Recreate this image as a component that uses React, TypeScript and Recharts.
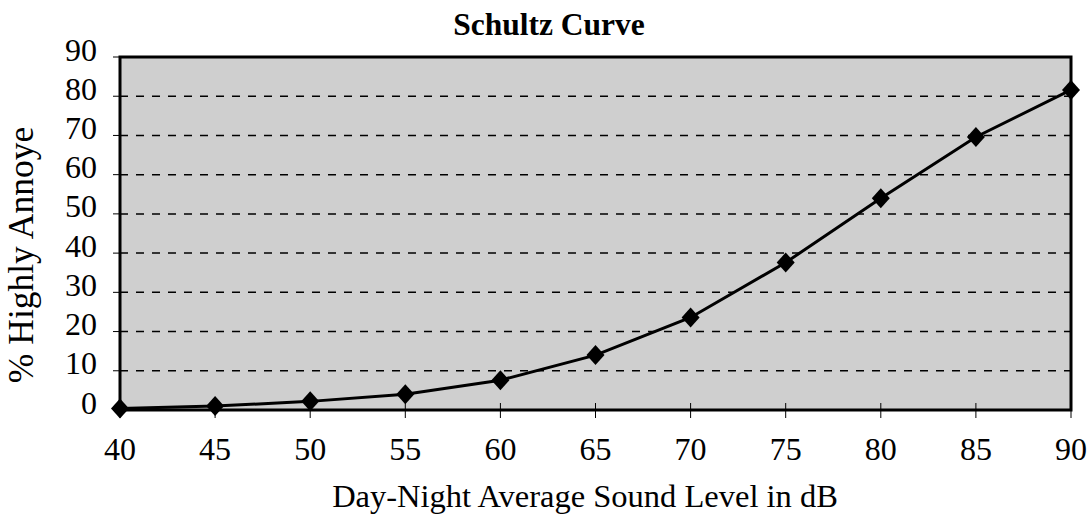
import React from "react";
import { LineChart, Line, XAxis, YAxis, CartesianGrid, ReferenceArea } from "recharts";

const soundLevels = [40, 45, 50, 55, 60, 65, 70, 75, 80, 85, 90];
const pctHighlyAnnoyed = [0.4, 1.0, 2.2, 4.0, 7.6, 14.0, 23.6, 37.6, 54.0, 69.6, 81.6];
const xTicks = [40, 45, 50, 55, 60, 65, 70, 75, 80, 85, 90];
const yTicks = [0, 10, 20, 30, 40, 50, 60, 70, 80, 90];
const titleText = "Schultz Curve";
const xLabelText = "Day-Night Average Sound Level in dB";
const yLabelText = "% Highly Annoye";

const data = soundLevels.map((x, i) => ({ x, y: pctHighlyAnnoyed[i] }));

const FONT = "'Liberation Serif', 'Times New Roman', serif";

const XTick = (props: any) => {
  const { x, y, payload } = props;
  return (
    <g>
      <line x1={x} x2={x} y1={y - 7} y2={y + 8} stroke="#000" strokeWidth={1} />
      <text x={x} y={y + 50} textAnchor="middle" fontFamily={FONT} fontSize={32} fill="#000">
        {payload.value}
      </text>
    </g>
  );
};

const YTick = (props: any) => {
  const { x, y, payload } = props;
  return (
    <g>
      <line x1={x - 7} x2={x} y1={y} y2={y} stroke="#000" strokeWidth={1} />
      <text x={x - 23} y={y + 3.5} textAnchor="end" fontFamily={FONT} fontSize={32} fill="#000">
        {payload.value}
      </text>
    </g>
  );
};

const Diamond = (props: any) => {
  const { cx, cy, index } = props;
  if (cx == null || cy == null) return <g key={index} />;
  return (
    <path
      key={index}
      d={`M${cx},${cy - 10}L${cx + 9},${cy}L${cx},${cy + 10}L${cx - 9},${cy}Z`}
      fill="#000"
    />
  );
};

export default function App() {
  return (
    <div style={{ position: "absolute", left: 0, top: 0, width: 1088, height: 521, background: "#fff" }}>
      <LineChart width={1088} height={521} data={data} margin={{ top: 57, right: 17, bottom: 51, left: 0 }}>
        <CartesianGrid
          horizontal
          vertical={false}
          fill="#cfcfcf"
          stroke="#000"
          strokeWidth={1.5}
          strokeDasharray="8 8"
          horizontalValues={[10, 20, 30, 40, 50, 60, 70, 80]}
        />
        <XAxis
          type="number"
          dataKey="x"
          domain={[40, 90]}
          ticks={xTicks}
          height={60}
          tickSize={0}
          tickMargin={0}
          axisLine={false}
          tickLine={false}
          tick={<XTick />}
          interval={0}
        />
        <YAxis
          type="number"
          domain={[0, 90]}
          ticks={yTicks}
          width={120}
          tickSize={0}
          tickMargin={0}
          axisLine={false}
          tickLine={false}
          tick={<YTick />}
          interval={0}
        />
        <ReferenceArea x1={40} x2={90} y1={0} y2={90} fill="none" stroke="#000" strokeWidth={3} />
        <Line
          type="linear"
          dataKey="y"
          stroke="#000"
          strokeWidth={3}
          dot={Diamond}
          activeDot={false}
          isAnimationActive={false}
        />
      </LineChart>
      <svg
        width={1088}
        height={521}
        style={{ position: "absolute", left: 0, top: 0, pointerEvents: "none" }}
      >
        <text x={549} y={35} textAnchor="middle" fontFamily={FONT} fontSize={31.5} fontWeight="bold" fill="#000">
          {titleText}
        </text>
        <text x={585} y={507} textAnchor="middle" fontFamily={FONT} fontSize={32.5} fill="#000">
          {xLabelText}
        </text>
        <text
          x={33}
          y={255}
          textAnchor="middle"
          fontFamily={FONT}
          fontSize={35.5}
          fill="#000"
          transform="rotate(-90 33 255)"
        >
          {yLabelText}
        </text>
      </svg>
    </div>
  );
}
